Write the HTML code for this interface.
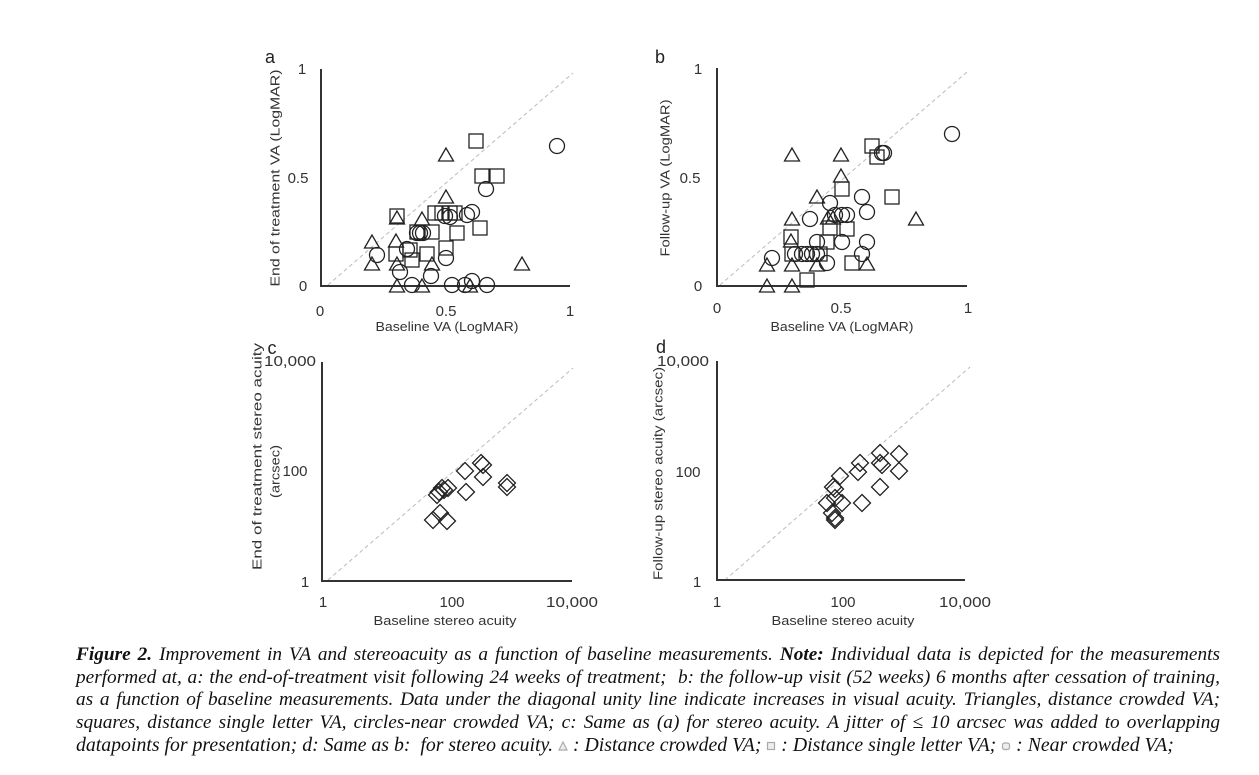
<!DOCTYPE html>
<html><head><meta charset="utf-8">
<style>
html,body{margin:0;padding:0;background:#fff;}
body{width:1259px;height:775px;position:relative;overflow:hidden;}
svg{position:absolute;left:0;top:0;}
.cap{position:absolute;left:76px;top:644px;width:1144px;font-family:"Liberation Serif",serif;font-style:italic;font-size:19.3px;line-height:22.6px;color:#111;}
.cap div{text-align:justify;text-align-last:justify;white-space:nowrap;height:22.6px;}
.cap div.last{text-align-last:left;font-size:19.8px;}
.ic{display:inline-block;width:10px;height:10px;vertical-align:0px;}
</style></head><body>
<svg width="1259" height="775" viewBox="0 0 1259 775" xmlns="http://www.w3.org/2000/svg">
<defs>
<g id="tri"><polygon points="0,-8 -7.5,5 7.5,5" fill="none" stroke="#222" stroke-width="1.3"/></g>
<g id="sq"><rect x="-7" y="-7" width="14" height="14" fill="none" stroke="#222" stroke-width="1.3"/></g>
<g id="ci"><circle r="7.5" fill="none" stroke="#222" stroke-width="1.3"/></g>
<g id="di"><polygon points="0,-8.5 8.5,0 0,8.5 -8.5,0" fill="none" stroke="#222" stroke-width="1.3"/></g>
</defs>
<g font-family="Liberation Sans, sans-serif" fill="#333">
<!-- Panel a -->
<line x1="328" y1="285" x2="573" y2="73" stroke="#bbb" stroke-width="1" stroke-dasharray="4,3"/>
<line x1="321" y1="69" x2="321" y2="286" stroke="#333" stroke-width="2"/>
<line x1="320" y1="286" x2="570" y2="286" stroke="#333" stroke-width="2"/>
<text x="270" y="63" font-size="18" text-anchor="middle" fill="#222">a</text>
<g font-size="15" text-anchor="middle">
<text x="302" y="74">1</text><text x="298" y="183">0.5</text><text x="303" y="291">0</text>
<text x="320" y="316">0</text><text x="446" y="316">0.5</text><text x="570" y="316">1</text>
</g>
<text x="447" y="331" font-size="13" text-anchor="middle" textLength="143" lengthAdjust="spacingAndGlyphs">Baseline VA (LogMAR)</text>
<text transform="translate(279.5,178) rotate(-90)" font-size="13" text-anchor="middle" textLength="217" lengthAdjust="spacingAndGlyphs">End of treatment VA (LogMAR)</text>

<!-- Panel b -->
<line x1="720" y1="285" x2="967" y2="72" stroke="#bbb" stroke-width="1" stroke-dasharray="4,3"/>
<line x1="717" y1="68" x2="717" y2="286" stroke="#333" stroke-width="2"/>
<line x1="716" y1="286" x2="967" y2="286" stroke="#333" stroke-width="2"/>
<text x="660" y="63" font-size="18" text-anchor="middle" fill="#222">b</text>
<g font-size="15" text-anchor="middle">
<text x="698" y="74">1</text><text x="690" y="183">0.5</text><text x="698" y="291">0</text>
<text x="717" y="313">0</text><text x="841" y="313">0.5</text><text x="968" y="313">1</text>
</g>
<text x="842" y="331" font-size="13" text-anchor="middle" textLength="143" lengthAdjust="spacingAndGlyphs">Baseline VA (LogMAR)</text>
<text transform="translate(669.5,178) rotate(-90)" font-size="13" text-anchor="middle" textLength="157" lengthAdjust="spacingAndGlyphs">Follow-up VA (LogMAR)</text>

<!-- Panel c -->
<line x1="328" y1="580" x2="573" y2="368" stroke="#bbb" stroke-width="1" stroke-dasharray="4,3"/>
<line x1="322" y1="362" x2="322" y2="581" stroke="#333" stroke-width="2"/>
<line x1="321" y1="581" x2="572" y2="581" stroke="#333" stroke-width="2"/>
<text x="272" y="354" font-size="18" text-anchor="middle" fill="#222">c</text>
<g font-size="15" text-anchor="middle">
<text x="290" y="366" textLength="52" lengthAdjust="spacingAndGlyphs">10,000</text><text x="295" y="476">100</text><text x="305" y="587">1</text>
<text x="323" y="607">1</text><text x="452" y="607">100</text><text x="572" y="607" textLength="52" lengthAdjust="spacingAndGlyphs">10,000</text>
</g>
<text x="445" y="625" font-size="13" text-anchor="middle" textLength="143" lengthAdjust="spacingAndGlyphs">Baseline stereo acuity</text>
<text transform="translate(261.5,456.5) rotate(-90)" font-size="13" text-anchor="middle" textLength="227" lengthAdjust="spacingAndGlyphs">End of treatment stereo acuity</text>
<text transform="translate(279.5,471.5) rotate(-90)" font-size="13" text-anchor="middle" textLength="53" lengthAdjust="spacingAndGlyphs">(arcsec)</text>

<!-- Panel d -->
<line x1="725" y1="580" x2="970" y2="367" stroke="#bbb" stroke-width="1" stroke-dasharray="4,3"/>
<line x1="717" y1="361" x2="717" y2="580" stroke="#333" stroke-width="2"/>
<line x1="716" y1="580" x2="965" y2="580" stroke="#333" stroke-width="2"/>
<text x="661" y="353" font-size="18" text-anchor="middle" fill="#222">d</text>
<g font-size="15" text-anchor="middle">
<text x="683" y="366" textLength="52" lengthAdjust="spacingAndGlyphs">10,000</text><text x="688" y="477">100</text><text x="697" y="587">1</text>
<text x="717" y="607">1</text><text x="843" y="607">100</text><text x="965" y="607" textLength="52" lengthAdjust="spacingAndGlyphs">10,000</text>
</g>
<text x="843" y="625" font-size="13" text-anchor="middle" textLength="143" lengthAdjust="spacingAndGlyphs">Baseline stereo acuity</text>
<text transform="translate(662.5,473.5) rotate(-90)" font-size="13" text-anchor="middle" textLength="213" lengthAdjust="spacingAndGlyphs">Follow-up  stereo acuity (arcsec)</text>
</g>

<!-- Panel a markers -->
<g>
<use href="#tri" x="446" y="156"/><use href="#tri" x="446" y="198"/><use href="#tri" x="397" y="219"/>
<use href="#tri" x="422" y="220"/><use href="#tri" x="372" y="243"/><use href="#tri" x="396" y="242"/>
<use href="#tri" x="372" y="265"/><use href="#tri" x="397" y="265"/><use href="#tri" x="432" y="265"/>
<use href="#tri" x="522" y="265"/><use href="#tri" x="397" y="287"/><use href="#tri" x="422" y="287"/>
<use href="#tri" x="470" y="287"/>
<use href="#sq" x="476" y="141"/><use href="#sq" x="482" y="176"/><use href="#sq" x="497" y="176"/>
<use href="#sq" x="397" y="216"/><use href="#sq" x="435" y="213"/><use href="#sq" x="442" y="213"/>
<use href="#sq" x="450" y="213"/><use href="#sq" x="455" y="213"/><use href="#sq" x="417" y="232"/>
<use href="#sq" x="432" y="232"/><use href="#sq" x="457" y="233"/><use href="#sq" x="480" y="228"/>
<use href="#sq" x="396" y="254"/><use href="#sq" x="410" y="250"/><use href="#sq" x="412" y="260"/>
<use href="#sq" x="427" y="254"/><use href="#sq" x="446" y="248"/>
<use href="#ci" x="557" y="146"/><use href="#ci" x="486" y="189"/><use href="#ci" x="472" y="212"/>
<use href="#ci" x="467" y="215"/><use href="#ci" x="450" y="217"/><use href="#ci" x="445" y="216"/>
<use href="#ci" x="417" y="233"/><use href="#ci" x="420" y="233"/><use href="#ci" x="423" y="233"/>
<use href="#ci" x="377" y="255"/><use href="#ci" x="407" y="249"/><use href="#ci" x="446" y="258"/>
<use href="#ci" x="400" y="272"/><use href="#ci" x="431" y="276"/><use href="#ci" x="412" y="285"/>
<use href="#ci" x="452" y="285"/><use href="#ci" x="465" y="285"/><use href="#ci" x="472" y="281"/>
<use href="#ci" x="487" y="285"/>
</g>

<!-- Panel b markers -->
<g>
<use href="#tri" x="792" y="156"/><use href="#tri" x="841" y="156"/><use href="#tri" x="841" y="177"/>
<use href="#tri" x="817" y="198"/><use href="#tri" x="916" y="220"/><use href="#tri" x="792" y="220"/>
<use href="#tri" x="828" y="219"/><use href="#tri" x="833" y="219"/><use href="#tri" x="791" y="242"/>
<use href="#tri" x="767" y="266"/><use href="#tri" x="792" y="266"/><use href="#tri" x="817" y="266"/>
<use href="#tri" x="867" y="265"/><use href="#tri" x="767" y="287"/><use href="#tri" x="792" y="287"/>
<use href="#sq" x="872" y="146"/><use href="#sq" x="877" y="157"/><use href="#sq" x="842" y="189"/>
<use href="#sq" x="892" y="197"/><use href="#sq" x="830" y="228"/><use href="#sq" x="847" y="229"/>
<use href="#sq" x="791" y="237"/><use href="#sq" x="827" y="242"/><use href="#sq" x="792" y="254"/>
<use href="#sq" x="820" y="254"/><use href="#sq" x="852" y="263"/><use href="#sq" x="807" y="280"/>
<use href="#ci" x="952" y="134"/><use href="#ci" x="882" y="153"/><use href="#ci" x="884" y="153"/>
<use href="#ci" x="862" y="197"/><use href="#ci" x="830" y="203"/><use href="#ci" x="867" y="212"/>
<use href="#ci" x="810" y="219"/><use href="#ci" x="835" y="215"/><use href="#ci" x="842" y="215"/>
<use href="#ci" x="847" y="215"/><use href="#ci" x="817" y="242"/><use href="#ci" x="842" y="242"/>
<use href="#ci" x="867" y="242"/><use href="#ci" x="795" y="254"/><use href="#ci" x="802" y="254"/>
<use href="#ci" x="807" y="254"/><use href="#ci" x="812" y="254"/><use href="#ci" x="817" y="254"/>
<use href="#ci" x="772" y="258"/><use href="#ci" x="862" y="254"/><use href="#ci" x="827" y="263"/>
</g>

<!-- Panel c markers -->
<g>
<use href="#di" x="433" y="520"/><use href="#di" x="440" y="513"/><use href="#di" x="447" y="521"/>
<use href="#di" x="437" y="495"/><use href="#di" x="439" y="492"/><use href="#di" x="442" y="488"/>
<use href="#di" x="448" y="488"/><use href="#di" x="444" y="490"/><use href="#di" x="465" y="471"/>
<use href="#di" x="466" y="492"/><use href="#di" x="481" y="463"/><use href="#di" x="483" y="465"/>
<use href="#di" x="483" y="477"/><use href="#di" x="507" y="483"/><use href="#di" x="507" y="487"/>
</g>

<!-- Panel d markers -->
<g>
<use href="#di" x="880" y="453"/><use href="#di" x="899" y="454"/><use href="#di" x="860" y="463"/>
<use href="#di" x="858" y="472"/><use href="#di" x="880" y="463"/><use href="#di" x="882" y="465"/>
<use href="#di" x="899" y="471"/><use href="#di" x="840" y="476"/><use href="#di" x="833" y="487"/>
<use href="#di" x="835" y="489"/><use href="#di" x="880" y="487"/><use href="#di" x="827" y="503"/>
<use href="#di" x="842" y="503"/><use href="#di" x="862" y="503"/><use href="#di" x="835" y="498"/>
<use href="#di" x="832" y="513"/><use href="#di" x="835" y="518"/><use href="#di" x="835" y="520"/>
</g>
</svg>

<div class="cap">
<div><b>Figure 2.</b> Improvement in VA and stereoacuity as a function of baseline measurements. <b>Note:</b> Individual data is depicted for the measurements</div>
<div>performed at, a: the end-of-treatment visit following 24 weeks of treatment;&nbsp; b: the follow-up visit (52 weeks) 6 months after cessation of training,</div>
<div>as a function of baseline measurements. Data under the diagonal unity line indicate increases in visual acuity. Triangles, distance crowded VA;</div>
<div>squares, distance single letter VA, circles-near crowded VA; c: Same as (a) for stereo acuity. A jitter of ≤ 10 arcsec was added to overlapping</div>
<div class="last">datapoints for presentation; d: Same as b:&nbsp; for stereo acuity. <svg class="ic" style="position:static" viewBox="0 0 10 10"><polygon points="5,1 1,9 9,9" fill="#eee" stroke="#aaa" stroke-width="1.2"/></svg> : Distance crowded VA; <svg class="ic" style="position:static" viewBox="0 0 10 10"><rect x="1.5" y="1.5" width="7" height="7" fill="#eee" stroke="#aaa" stroke-width="1.2"/></svg> : Distance single letter VA; <svg class="ic" style="position:static" viewBox="0 0 10 10"><rect x="1.5" y="2" width="7" height="6.5" rx="2" fill="#eee" stroke="#aaa" stroke-width="1.2"/></svg> : Near crowded VA;</div>
</div>
</body></html>
